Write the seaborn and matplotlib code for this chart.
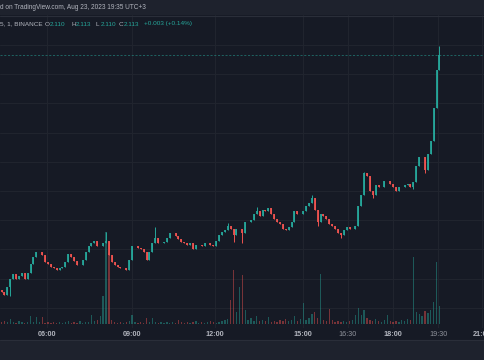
import numpy as np
import pandas as pd
import matplotlib
matplotlib.use("Agg")
import matplotlib.pyplot as plt
import seaborn as sns
from matplotlib.patches import Rectangle
from matplotlib.lines import Line2D

# ---- data (6-min bars) ----
first_open = 1.952
closes = [1.951, 1.949, 1.954, 1.960, 1.963, 1.960, 1.962, 1.964, 1.960, 1.964,
          1.970, 1.975, 1.978, 1.978, 1.976, 1.971, 1.970, 1.968, 1.967, 1.966,
          1.967, 1.968, 1.971, 1.977, 1.975, 1.972, 1.969, 1.969, 1.973, 1.978,
          1.982, 1.984, 1.986, 1.982, 1.982, 1.984, 1.986, 1.976, 1.971, 1.969,
          1.968, 1.967, 1.967, 1.966, 1.973, 1.982, 1.982, 1.981, 1.980, 1.978,
          1.973, 1.978, 1.984, 1.988, 1.984, 1.984, 1.985, 1.988, 1.991, 1.991,
          1.989, 1.987, 1.985, 1.984, 1.983, 1.984, 1.980, 1.983, 1.983, 1.982,
          1.984, 1.984, 1.983, 1.982, 1.986, 1.990, 1.992, 1.993, 1.996, 1.994,
          1.990, 1.994, 1.994, 1.991, 1.999, 1.999, 2.000, 2.004, 2.006, 2.003,
          2.007, 2.006, 2.008, 2.004, 2.001, 1.999, 1.997, 1.994, 1.993, 1.995,
          1.999, 2.006, 2.004, 2.004, 2.006, 2.010, 2.012, 2.015, 2.007, 1.999,
          2.004, 2.003, 2.001, 1.997, 1.996, 1.994, 1.991, 1.990, 1.993, 1.995,
          1.994, 1.994, 1.996, 2.010, 2.017, 2.032, 2.030, 2.020, 2.017, 2.024,
          2.023, 2.023, 2.027, 2.027, 2.025, 2.023, 2.020, 2.023, 2.023, 2.024,
          2.025, 2.023, 2.026, 2.037, 2.043, 2.043, 2.034, 2.045, 2.054, 2.077,
          2.103, 2.113]

# volume in thousands
volumes = [2, 3, 2, 5, 2, 1, 3, 2, 1, 2,
           8, 2, 7, 2, 7, 1, 2, 1, 2, 1,
           2, 1, 2, 3, 1, 2, 1, 3, 1, 2,
           2, 9, 3, 4, 8, 28, 92, 71, 4, 2,
           1, 2, 1, 2, 3, 9, 2, 1, 2, 1,
           6, 2, 6, 2, 1, 2, 1, 2, 1, 2,
           1, 4, 2, 1, 2, 1, 2, 3, 1, 2,
           1, 2, 3, 2, 1, 2, 3, 4, 5, 24,
           54, 12, 37, 49, 14, 4, 6, 3, 8, 3,
           4, 3, 7, 2, 3, 2, 4, 3, 5, 3,
           4, 8, 3, 5, 21, 4, 6, 10, 12, 6,
           50, 4, 3, 15, 4, 2, 3, 2, 3, 2,
           3, 4, 9, 16, 9, 14, 6, 4, 3, 5,
           3, 2, 4, 9, 3, 2, 3, 2, 4, 3,
           5, 4, 67, 12, 10, 8, 13, 11, 14, 22,
           62, 18]

# notable wicks
wick_highs = {36: 1.992, 53: 1.995, 78: 1.998, 88: 2.009, 107: 2.017, 125: 2.033, 151: 2.119}
wick_lows = {3: 1.948, 80: 1.985, 83: 1.984, 109: 1.996, 117: 1.988, 128: 2.015, 142: 2.021, 146: 2.032}

time_labels = ["06:00", "09:00", "12:00", "15:00", "16:30", "18:00", "19:30", "21:00"]
time_bars = [15.7, 45.0, 73.6, 103.9, 119.4, 135.0, 150.5, 165.7]
price_grid = [1.94, 1.96, 1.98, 2.00, 2.02, 2.04, 2.06, 2.08, 2.10, 2.12]

legend_ohlc = [2.110, 2.113, 2.110, 2.113]
legend_change = "+0.003 (+0.14%)"
header_text = "d on TradingView.com, Aug 23, 2023 19:35 UTC+3"
symbol_text = "5, 1, BINANCE"

# ---- frame ----
df = pd.DataFrame({"bar": np.arange(len(closes)), "close": closes, "volume": volumes})
df["open"] = [first_open] + closes[:-1]
df["high"] = df[["open", "close"]].max(axis=1)
df["low"] = df[["open", "close"]].min(axis=1)
for k, v in wick_highs.items():
    df.loc[k, "high"] = v
for k, v in wick_lows.items():
    df.loc[k, "low"] = v
df["dir"] = np.where(df["close"] >= df["open"], "up", "down")

BG = "#161a25"
PANEL = "#1e222d"
GRID = "#21252f"
TEXT = "#b2b5be"
UP = "#26a69a"
DOWN = "#ef5350"

sns.set_theme(style="dark", rc={"axes.facecolor": BG, "figure.facecolor": BG})
plt.rcParams["font.family"] = ["Liberation Sans", "DejaVu Sans"]

W, H = 485, 360
fig = plt.figure(figsize=(W / 100, H / 100), dpi=100, facecolor=BG)

# header / bottom panels
fig.patches.append(Rectangle((0, 1 - 15 / H), 1, 15 / H, transform=fig.transFigure,
                             facecolor=PANEL, edgecolor="none", zorder=0))
fig.patches.append(Rectangle((0, 0), 1, 20 / H, transform=fig.transFigure,
                             facecolor=PANEL, edgecolor="none", zorder=0))
fig.lines.append(Line2D([0, 1], [1 - 15.5 / H] * 2, transform=fig.transFigure, color="#2a2e39", lw=0.8))
fig.lines.append(Line2D([0, 1], [20.5 / H] * 2, transform=fig.transFigure, color="#2a2e39", lw=0.8))

rect = [0, 32 / H, 1, 313 / H]
ax = fig.add_axes(rect)
axv = fig.add_axes(rect, sharex=ax)
axv.patch.set_alpha(0)

# grid
ax.set_yticks(price_grid)
ax.set_xticks(time_bars, time_labels)
ax.grid(True, color=GRID, lw=0.7)
ax.set_axisbelow(True)

# candles
colors = df["dir"].map({"up": UP, "down": DOWN})
ax.vlines(df["bar"], df["low"], df["high"], colors=colors, lw=0.7, zorder=3)
ax.vlines(df["bar"], df["open"], df["close"], colors=colors, lw=1.3, zorder=4)

# last price line
ax.axhline(legend_ohlc[3], color=UP, lw=0.6, ls=(0, (2.5, 2)), alpha=0.6, zorder=2)

ax.set_xlim(-0.55, 166.7)
ax.set_ylim(1.9261, 2.1405)

# volume
sns.barplot(data=df, x="bar", y="volume", hue="dir", palette={"up": UP, "down": DOWN},
            native_scale=True, dodge=False, width=0.45, alpha=0.45, saturation=1,
            errorbar=None, legend=False, linewidth=0, ax=axv)
axv.set_ylim(-4, 309)
axv.set_xlim(-0.55, 166.7)
axv.set_xlabel("")
axv.set_ylabel("")
axv.set_yticks([])
axv.tick_params(axis="x", bottom=False, labelbottom=False)
axv.grid(False)

for a in (ax, axv):
    for s in a.spines.values():
        s.set_visible(False)
ax.set_xlabel("")
ax.set_ylabel("")
ax.tick_params(axis="y", left=False, labelleft=False)
ax.tick_params(axis="x", length=0, pad=1.8, labelsize=5.2, labelcolor=TEXT)
for lbl in ax.get_xticklabels():
    if lbl.get_text().endswith(":30"):
        lbl.set_color("#8f929b")
    else:
        lbl.set_fontweight("bold")

# texts
def px(x, y):
    return x / W, 1 - y / H

FS = 4.6
fig.text(*px(0, 7.5), header_text, color=TEXT, fontsize=4.7, va="center", ha="left")
fig.text(*px(0, 24), symbol_text, color=TEXT, fontsize=FS, va="center", ha="left")
for lx, letter, val in [(45, "O", legend_ohlc[0]), (71, "H", legend_ohlc[1]),
                        (96, "L", legend_ohlc[2]), (119, "C", legend_ohlc[3])]:
    fig.text(*px(lx, 24), letter, color=TEXT, fontsize=FS, va="center", ha="left")
    fig.text(*px(lx + 5, 24), f"{val:.3f}", color=UP, fontsize=FS, va="center", ha="left")
fig.text(*px(144, 24), legend_change, color=UP, fontsize=FS, va="center", ha="left")

fig.savefig("out.png", dpi=100, facecolor=BG)
